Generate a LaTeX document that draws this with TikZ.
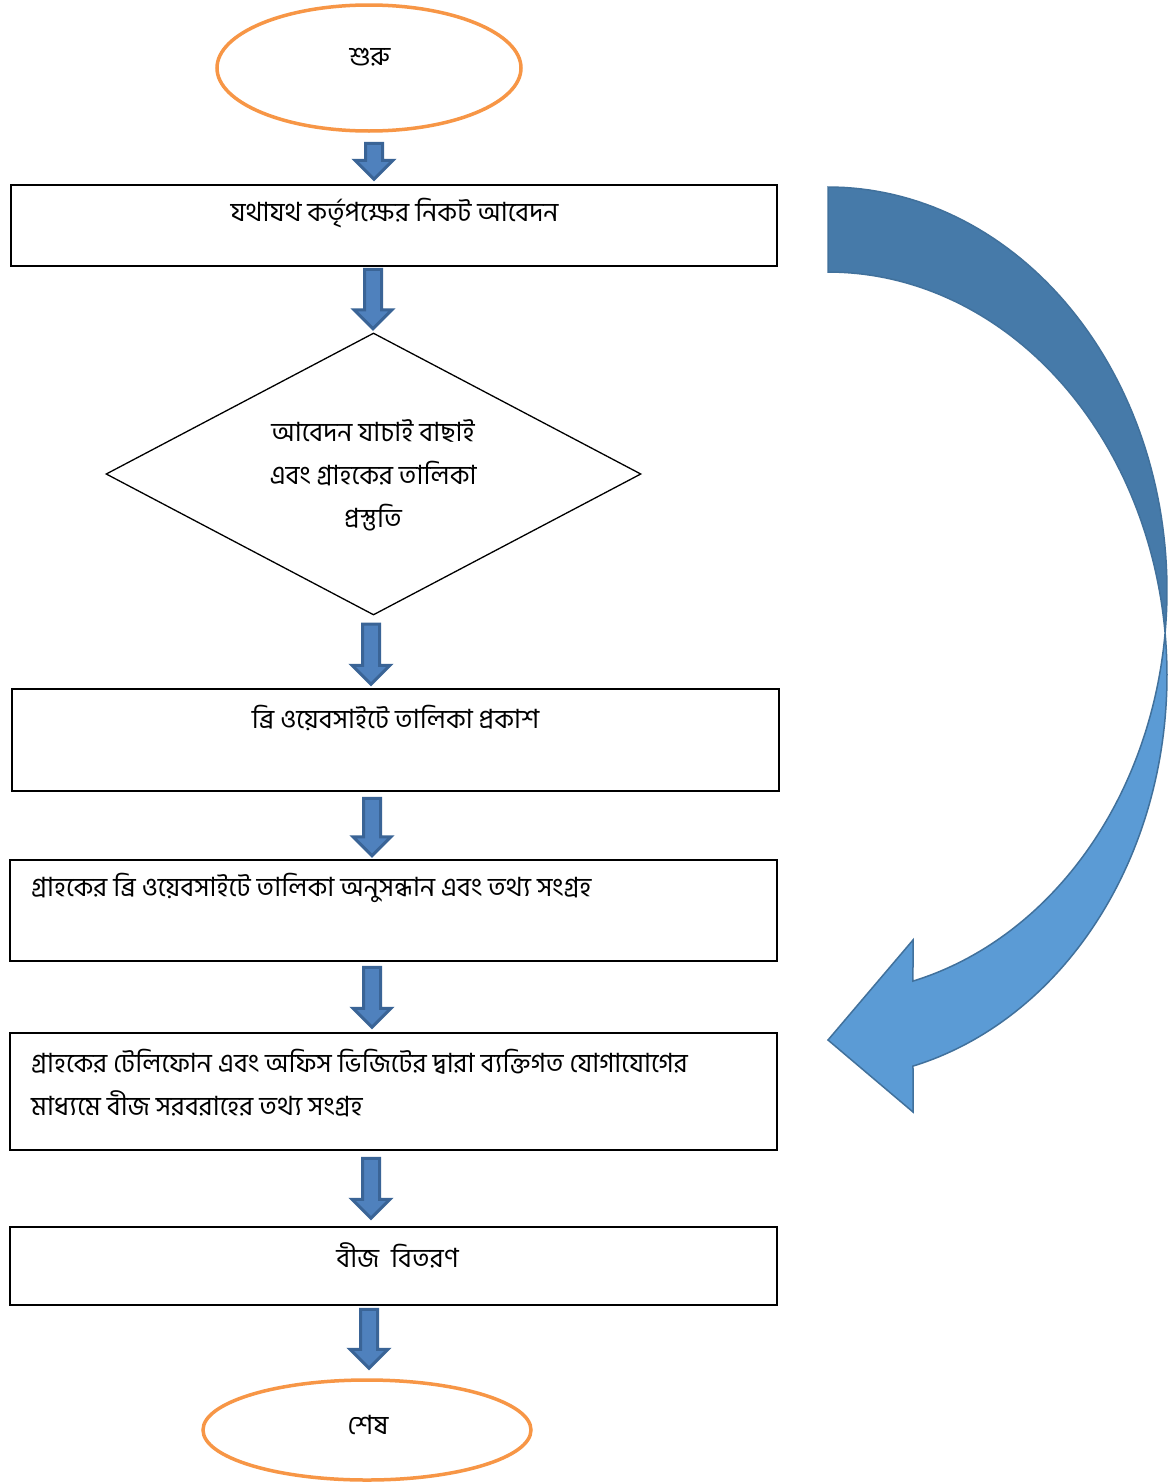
\documentclass[tikz,border=0pt]{standalone}
\usepackage{fontspec}
\newfontfamily\bn[Script=Bengali]{Hind Siliguri}
\usetikzlibrary{shapes.geometric,calc}
\definecolor{orng}{HTML}{F79646}
\definecolor{arrfill}{HTML}{4F81BD}
\definecolor{arrline}{HTML}{3A6496}
\definecolor{darkband}{HTML}{467AA9}
\definecolor{lightband}{HTML}{5B9BD5}
\definecolor{bandline}{HTML}{41719C}
\newcommand\darrow[3]{%
  \draw[barrow] let \p1=#2, \p2=#3 in
  (#1pt-8.5pt,\y1) -- (#1pt+8.5pt,\y1) -- (#1pt+8.5pt,\y2+19pt) -- (#1pt+19pt,\y2+19pt)
  -- (#1pt,\y2) -- (#1pt-19pt,\y2+19pt) -- (#1pt-8.5pt,\y2+19pt) -- cycle;}
\begin{document}
\begin{tikzpicture}[x=1pt,y=-1pt,
  terminal/.style={ellipse,draw=orng,line width=3.5pt,fill=white,inner sep=0},
  box/.style={rectangle,draw=black,line width=1.5pt,inner sep=0},
  decision/.style={diamond,draw=black,line width=1.3pt,inner sep=0,aspect=1.9},
  txt/.style={font=\bn\fontsize{26.5}{43}\selectfont,inner sep=0},
  barrow/.style={draw=arrline,fill=arrfill,line width=3pt,line join=miter},
  darkpart/.style={fill=darkband,draw=bandline,line width=1.5pt,line join=miter},
  lightpart/.style={fill=lightband,draw=bandline,line width=1.5pt,line join=miter}]
\useasboundingbox (0,0) rectangle (1169,1483);
\fill[white] (0,0) rectangle (1169,1483);

% nodes
\node[terminal,minimum width=304,minimum height=126] (start) at (369,68) {};
\node[txt] (tstart) at (370,57) {শুরু};

\node[box,minimum width=766,minimum height=81] (box1) at (394,225.5) {};
\node[txt] (t1) at (394.5,213) {যথাযথ কর্তৃপক্ষের নিকট আবেদন};

\node[decision,minimum width=535,minimum height=282] (dec) at (373.5,474) {};
\node[txt,align=center] (t2) at (373,475) {আবেদন যাচাই বাছাই\\এবং গ্রাহকের তালিকা\\প্রস্তুতি};

\node[box,minimum width=767,minimum height=102] (box3) at (395.5,740) {};
\node[txt] (t3) at (395.5,718) {ব্রি ওয়েবসাইটে তালিকা প্রকাশ};

\node[box,minimum width=767,minimum height=101] (box4) at (393.5,910.5) {};
\node[txt,anchor=west] (t4) at (31,888) {গ্রাহকের ব্রি ওয়েবসাইটে তালিকা অনুসন্ধান এবং তথ্য সংগ্রহ};

\node[box,minimum width=767,minimum height=117] (box5) at (393.5,1091.5) {};
\node[txt,anchor=west,align=left] (t5) at (31,1083.5) {গ্রাহকের টেলিফোন এবং অফিস ভিজিটের দ্বারা ব্যক্তিগত যোগাযোগের\\মাধ্যমে বীজ সরবরাহের তথ্য সংগ্রহ};

\node[box,minimum width=767,minimum height=78] (box6) at (393.5,1266) {};
\node[txt] (t6) at (397.5,1255) {বীজ\ \ বিতরণ};

\node[terminal,minimum width=328,minimum height=100] (finish) at (367,1430) {};
\node[txt] (tend) at (368,1425) {শেষ};

% block arrows between nodes
\darrow{374}{($(start.south)+(0,10.5)$)}{($(box1.north)+(0,-5)$)}
\darrow{373}{($(box1.south)+(0,2.5)$)}{($(dec.north)+(0,-3.5)$)}
\darrow{371}{($(dec.south)+(0,8.5)$)}{($(box3.north)+(0,-4)$)}
\darrow{372}{($(box3.south)+(0,6.5)$)}{($(box4.north)+(0,-3.5)$)}
\darrow{372}{($(box4.south)+(0,5.5)$)}{($(box5.north)+(0,-5)$)}
\darrow{371}{($(box5.south)+(0,7.5)$)}{($(box6.north)+(0,-8)$)}
\darrow{369}{($(box6.south)+(0,3.5)$)}{($(finish.north)+(0,-10)$)}

% curved return arrow
\draw[darkpart] (828,187)
  -- plot[domain=-90:6.05,samples=70] ({828+339*cos(\x)},{590.5+403.5*sin(\x)})
  -- plot[domain=-6.05:-90,samples=70] ({828+339*cos(\x)},{675.5+403.5*sin(\x)})
  -- cycle;
\draw[lightpart]
  plot[domain=-6.05:75.48,samples=70] ({828+339*cos(\x)},{675.5+403.5*sin(\x)})
  -- (913,1112) -- (828,1040) -- (913,940)
  -- plot[domain=75.48:6.05,samples=70] ({828+339*cos(\x)},{590.5+403.5*sin(\x)})
  -- cycle;
\end{tikzpicture}
\end{document}
